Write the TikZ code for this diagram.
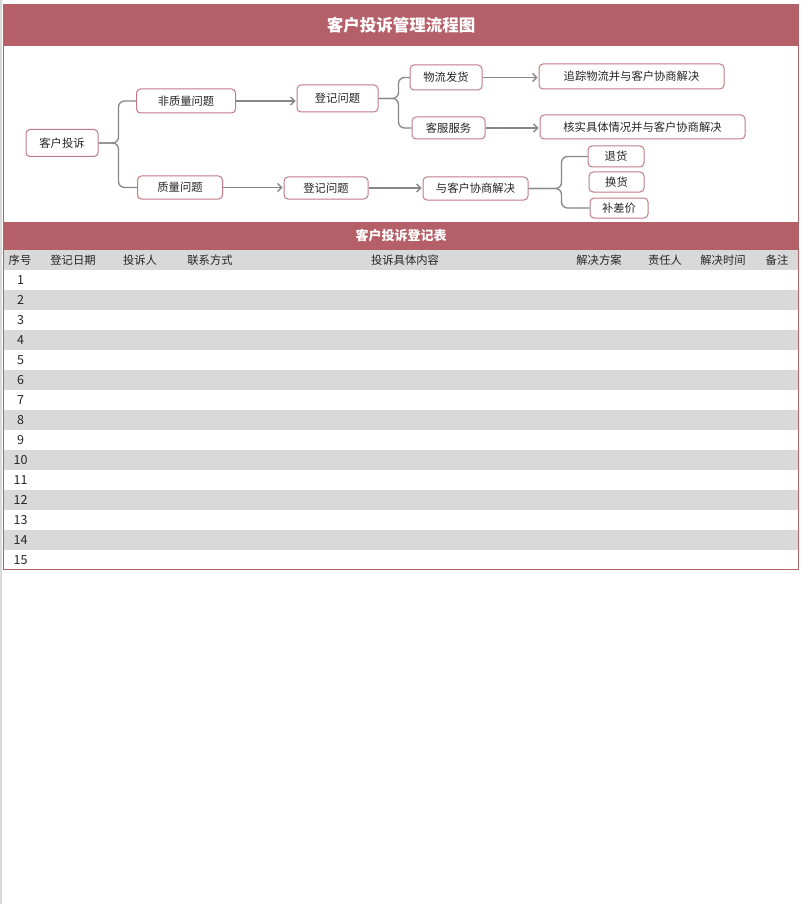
\documentclass[tikz,border=0pt]{standalone}
\usepackage{fontspec}
\setmainfont{Noto Sans CJK SC}
\usetikzlibrary{arrows.meta}
\definecolor{hdr}{HTML}{B55F69}
\definecolor{nodeb}{HTML}{C27A86}
\definecolor{rowg}{HTML}{D9D9D9}
\definecolor{lineg}{HTML}{878787}
\definecolor{txt}{HTML}{262626}
\begin{document}
\begin{tikzpicture}[x=1pt,y=-1pt,
  box/.style={draw=nodeb, line width=1pt, fill=white, rounded corners=4pt, inner sep=0pt,
    font=\fontsize{11.3}{13}\selectfont, text=txt},
  conn/.style={draw=lineg, line width=1.3pt},
  arr/.style={conn, -{Straight Barb[length=4pt,width=8pt]}, shorten >=1pt},
  brace/.style={conn, rounded corners=6pt},
  cell/.style={font=\fontsize{11.3}{13}\selectfont, text=txt, inner sep=0pt},
  num/.style={font=\fontsize{12.5}{14}\selectfont, text=txt, inner sep=0pt}]
\useasboundingbox (0,0) rectangle (800,904);
\fill[white] (0,0) rectangle (800,904);
\draw[black!15, line width=1.5pt] (0.75,0) -- (0.75,904);
% title header
\fill[hdr] (3,4) rectangle (799,46);
\node[font=\bfseries\fontsize{16.5}{19}\selectfont, text=white] (title) at (401,25) {客户投诉管理流程图};
% table header
\fill[hdr] (3,222) rectangle (799,250);
\node[font=\bfseries\fontsize{13}{15}\selectfont, text=white] (ttitle) at (401,236) {客户投诉登记表};
% header row and striped rows
\fill[rowg] (4,250) rectangle (798,270);
\foreach \n in {2,4,...,14} {\fill[rowg] (4,250+20*\n) rectangle (798,270+20*\n);}
% frame
\draw[hdr, line width=1pt] (3.5,46) -- (3.5,569.5) -- (798.5,569.5) -- (798.5,46);
% column headers
\node[cell] (c1) at (20,260) {序号};
\node[cell] (c2) at (73,260) {登记日期};
\node[cell] (c3) at (140,260) {投诉人};
\node[cell] (c4) at (210,260) {联系方式};
\node[cell] (c5) at (405,260) {投诉具体内容};
\node[cell] (c6) at (599,260) {解决方案};
\node[cell] (c7) at (665,260) {责任人};
\node[cell] (c8) at (723,260) {解决时间};
\node[cell] (c9) at (777,260) {备注};
\foreach \n in {1,...,15} {\node[num] (r\n) at (20.5,260+20*\n) {\n};}
% flow nodes
\node[box, minimum width=72pt, minimum height=27pt] (kehu) at (62,143) {客户投诉};
\node[box, minimum width=99pt, minimum height=24pt] (fzl) at (186,101) {非质量问题};
\node[box, minimum width=85pt, minimum height=23pt] (zl) at (180,187.5) {质量问题};
\node[box, minimum width=81pt, minimum height=27pt] (dj1) at (337.5,98.5) {登记问题};
\node[box, minimum width=84pt, minimum height=22pt] (dj2) at (326,188) {登记问题};
\node[box, minimum width=72pt, minimum height=25pt] (wl) at (446,77.5) {物流发货};
\node[box, minimum width=185pt, minimum height=25pt] (zz) at (631.5,76.5) {追踪物流并与客户协商解决};
\node[box, minimum width=73pt, minimum height=22pt] (kf) at (448.5,128) {客服服务};
\node[box, minimum width=205pt, minimum height=24pt] (hs) at (642.5,127) {核实具体情况并与客户协商解决};
\node[box, minimum width=105pt, minimum height=23pt] (xs) at (475.5,188.5) {与客户协商解决};
\node[box, minimum width=56pt, minimum height=21pt] (th) at (616,156.5) {退货};
\node[box, minimum width=55pt, minimum height=20pt] (hh) at (616.5,182) {换货};
\node[box, minimum width=58pt, minimum height=20pt] (bc) at (619,208) {补差价};
% connectors
\draw[brace] (kehu.east) -- ++(20,0) |- (fzl.west);
\draw[brace] (kehu.east) -- ++(20,0) |- (zl.west);
\draw[arr] (fzl.east) -- (fzl.east -| dj1.west);
\draw[brace] (dj1.east) -- ++(20,0) |- (wl.west);
\draw[brace] (dj1.east) -- ++(20,0) |- (kf.west);
\draw[arr] (wl.east) -- (wl.east -| zz.west);
\draw[arr] (kf.east) -- (kf.east -| hs.west);
\draw[arr] (zl.east) -- (zl.east -| dj2.west);
\draw[arr] (dj2.east) -- (dj2.east -| xs.west);
\draw[brace] (xs.east) -- ++(33,0) |- (th.west);
\draw[brace] (xs.east) -- ++(33,0) |- (bc.west);
\end{tikzpicture}
\end{document}
